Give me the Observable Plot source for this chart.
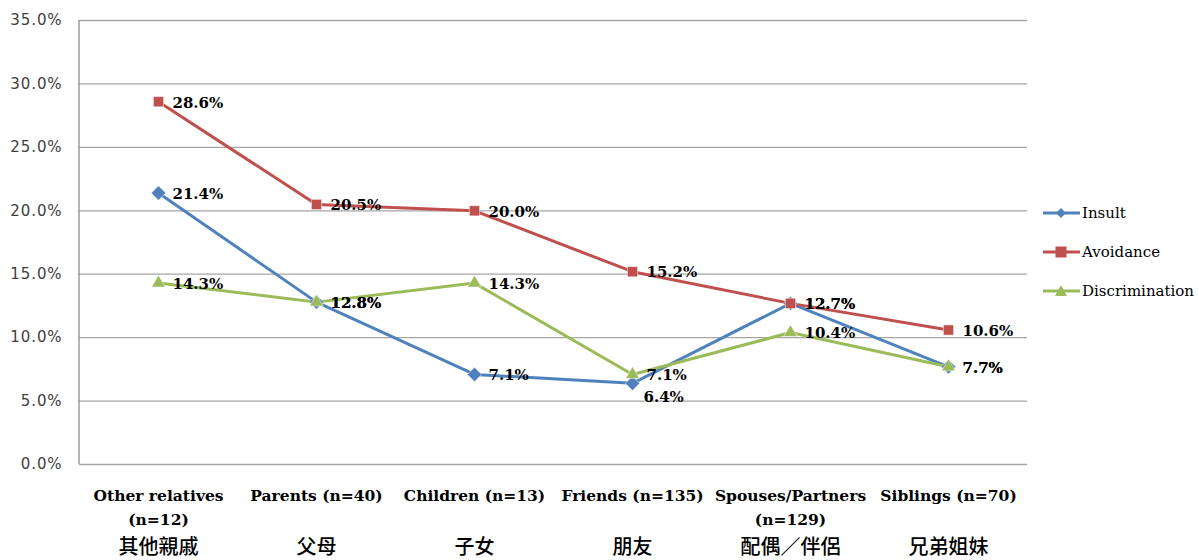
<!DOCTYPE html>
<html>
<head>
<meta charset="utf-8">
<script src="https://cdn.jsdelivr.net/npm/d3@7"></script>
<script src="https://cdn.jsdelivr.net/npm/@observablehq/plot@0.6"></script>
<style>
  body { margin: 0; background: #fff; }
  #wrap { position: relative; width: 1199px; height: 560px; overflow: hidden; }
  #legend { position: absolute; left: 1043px; top: 193px; font-family: "DejaVu Serif", serif; font-size: 15px; color: #000; }
  #legend .row { display: flex; align-items: center; height: 39px; }
  #legend svg { margin-right: 2px; }
  g[aria-label="y-axis tick label"] text { letter-spacing: 0.9px; }
</style>
</head>
<body>
<div id="wrap"><div id="legend"></div></div>
<script>
const categoriesEn = ["Other relatives\n(n=12)", "Parents (n=40)", "Children (n=13)", "Friends (n=135)", "Spouses/Partners\n(n=129)", "Siblings (n=70)"];
const categoriesZh = ["其他親戚", "父母", "子女", "朋友", "配偶／伴侶", "兄弟姐妹"];
const seriesNames = ["Insult", "Avoidance", "Discrimination"];
const insult = [21.4, 12.8, 7.1, 6.4, 12.7, 7.7];
const avoidance = [28.6, 20.5, 20.0, 15.2, 12.7, 10.6];
const discrimination = [14.3, 12.8, 14.3, 7.1, 10.4, 7.7];
const yTicks = [0, 5, 10, 15, 20, 25, 30, 35];

const colors = ["#4F81BD", "#C0504D", "#9BBB59"];
const symbols = ["diamond2", "square2", "triangle2"];
const seriesValues = [insult, avoidance, discrimination];
const serif = "'DejaVu Serif', serif";

const data = [];
seriesNames.forEach((s, si) => seriesValues[si].forEach((v, i) => data.push({series: s, cat: categoriesEn[i], value: v})));

const special = d => d.series === "Insult" && d.cat === categoriesEn[3];
const fmt = v => v.toFixed(1) + "%";

const leftLine = (index, scales, values, dims) => {
  const l = document.createElementNS("http://www.w3.org/2000/svg", "line");
  l.setAttribute("x1", dims.marginLeft); l.setAttribute("x2", dims.marginLeft);
  l.setAttribute("y1", dims.marginTop); l.setAttribute("y2", dims.height - dims.marginBottom);
  l.setAttribute("stroke", "#8c8c8c"); l.setAttribute("stroke-width", 1.3);
  return l;
};

const chart = Plot.plot({
  width: 1199,
  height: 560,
  marginLeft: 79,
  marginRight: 172,
  marginTop: 20,
  marginBottom: 96,
  style: {background: "#fff", overflow: "visible"},
  x: {type: "point", domain: categoriesEn, padding: 0.5, axis: null},
  y: {domain: [0, 35], axis: null},
  color: {domain: seriesNames, range: colors},
  symbol: {domain: seriesNames, range: symbols},
  marks: [
    Plot.ruleY(yTicks, {y: d => d, stroke: "#a6a6a6", strokeWidth: 1.3, strokeOpacity: 1}),
    leftLine,
    Plot.axisY({ticks: yTicks, label: null, tickSize: 0, tickPadding: 17, tickFormat: fmt, fontSize: 15, fontFamily: "DejaVu Sans", fill: "#404040", textAnchor: "end"}),
    Plot.text(categoriesEn, {x: d => d, frameAnchor: "bottom", lineAnchor: "top", dy: 19, fontSize: 15.5, fontWeight: "bold", fontFamily: serif, lineHeight: 1.55, fill: "#000"}),
    Plot.text(categoriesZh, {x: (d, i) => categoriesEn[i], frameAnchor: "bottom", lineAnchor: "middle", dy: 83, fontSize: 20, fontWeight: 500, fontFamily: "Noto Sans CJK TC", fill: "#000"}),
    Plot.line(data, {x: "cat", y: "value", z: "series", stroke: "series", strokeWidth: 3}),
    Plot.dot(data, {x: "cat", y: "value", fill: "series", symbol: "series", r: 6.5, stroke: "white", strokeWidth: 0.5}),
    Plot.text(data.filter(d => !special(d)), {x: "cat", y: "value", text: d => fmt(d.value), textAnchor: "start", dx: 14, dy: 1, fontSize: 15, fontWeight: "bold", fontFamily: serif, fill: "#000"}),
    Plot.text(data.filter(special), {x: "cat", y: "value", text: d => fmt(d.value), textAnchor: "start", dx: 11, dy: 14, fontSize: 15, fontWeight: "bold", fontFamily: serif, fill: "#000"})
  ]
});
document.getElementById("wrap").prepend(chart);

const legend = document.getElementById("legend");
const symPaths = [
  '<path d="M18 2 L23 7 L18 12 L13 7 Z" fill="#4F81BD"/>',
  '<rect x="12.5" y="1.5" width="11" height="11" fill="#C0504D"/>',
  '<path d="M18 1 L24 12 L12 12 Z" fill="#9BBB59"/>'
];
seriesNames.forEach((s, i) => {
  const row = document.createElement("div");
  row.className = "row";
  row.innerHTML = `<svg width="37" height="14"><line x1="0" x2="37" y1="7" y2="7" stroke="${colors[i]}" stroke-width="3"/>${symPaths[i]}</svg><span>${s}</span>`;
  legend.appendChild(row);
});
</script>
</body>
</html>
